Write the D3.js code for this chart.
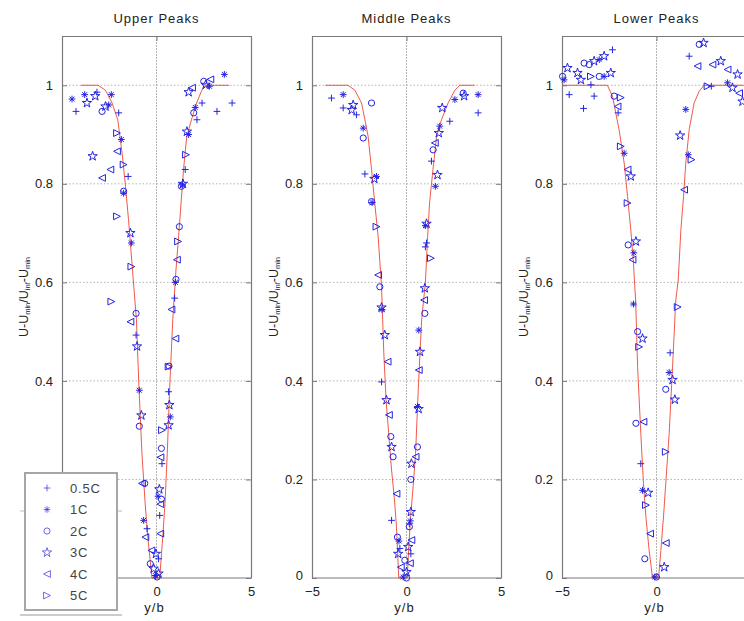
<!DOCTYPE html>
<html><head><meta charset="utf-8">
<script src="https://cdn.jsdelivr.net/npm/d3@7"></script>
<style>
html,body{margin:0;padding:0;background:#fff;}
svg text{font-family:"Liberation Sans",Arial,sans-serif;}
</style></head>
<body><svg id="c" width="744" height="621"></svg>
<script>
// ---------- DATA ----------
const panelTitles = ["Upper Peaks", "Middle Peaks", "Lower Peaks"];
const seriesNames = ["0.5C", "1C", "2C", "3C", "4C", "5C"];
const xTicks = [-5, 0, 5];
const yTicks = [0, 0.2, 0.4, 0.6, 0.8, 1];

// Upper peaks, each point [y/b, ratio]
const upper05C = [[-4.26,0.947],[-3.15,0.986],[-2.0,0.944],[-1.5,0.815],[-1.08,0.493],[-0.5,0.1],[0.11,0.039],[0.17,0.127],[0.29,0.232],[0.64,0.378],[0.96,0.568],[1.52,0.829],[2.14,0.93],[2.41,0.964],[3.2,0.947],[4.0,0.964]];
const upper1C = [[-4.47,0.972],[-3.8,0.981],[-2.39,0.981],[-2.53,0.96],[-1.86,0.89],[-1.74,0.781],[-1.33,0.68],[-0.91,0.381],[-0.68,0.117],[-0.06,0.005],[0.08,0.166],[0.73,0.327],[1.0,0.6],[1.38,0.798],[1.7,0.9],[2.05,0.955],[2.8,0.998],[3.59,1.022]];
const upper2C = [[-2.88,0.947],[-1.74,0.785],[-1.08,0.537],[-0.91,0.308],[-0.62,0.192],[-0.33,0.029],[0.03,0.002],[0.26,0.263],[0.26,0.16],[0.66,0.43],[1.03,0.606],[1.21,0.713],[1.32,0.795],[1.97,0.944],[2.5,1.008]];
const upper3C = [[-3.68,0.964],[-3.24,0.978],[-2.7,0.957],[-3.38,0.856],[-1.38,0.7],[-1.03,0.47],[-0.8,0.33],[-0.03,0.049],[-0.15,0.019],[0.11,0.009],[0.15,0.18],[0.68,0.351],[0.64,0.31],[1.4,0.8],[1.61,0.906],[1.7,0.986],[2.6,1.001]];
const upper4C = [[-2.09,0.866],[-2.44,0.829],[-2.88,0.812],[-1.38,0.52],[-0.77,0.192],[-0.59,0.083],[-0.27,0.056],[0.2,0.09],[0.2,0.15],[0.21,0.245],[1.0,0.486],[0.79,0.545],[1.08,0.646],[1.88,0.995],[2.85,1.012]];
const upper5C = [[-2.09,0.903],[-1.74,0.839],[-2.09,0.734],[-1.33,0.632],[-2.39,0.561],[0.29,0.3],[0.64,0.429],[1.14,0.683],[1.56,0.859]];

const middle05C = [[-3.97,0.974],[-3.35,0.954],[-2.65,0.94],[-2.2,0.82],[-1.32,0.398],[-0.79,0.117],[-0.35,0.06],[0.23,0.049],[0.15,0.11],[1.06,0.68],[1.0,0.672],[1.32,0.846],[2.29,0.927],[3.79,0.944]];
const middle1C = [[-3.35,0.981],[-2.29,0.913],[-1.59,0.815],[-1.82,0.762],[-1.3,0.545],[-0.4,0.075],[-0.18,0.002],[0.2,0.116],[0.58,0.348],[0.65,0.503],[1.0,0.715],[1.53,0.795],[1.76,0.917],[2.56,0.971],[3.79,0.981]];
const middle2C = [[-1.85,0.964],[-2.29,0.893],[-1.85,0.764],[-1.41,0.591],[-0.83,0.287],[-0.71,0.246],[-0.48,0.083],[-0.09,0.036],[0,0],[0.15,0.104],[0.23,0.2],[0.58,0.266],[0.97,0.537],[1.41,0.869],[3.0,0.984]];
const middle3C = [[-2.82,0.96],[-2.9,0.95],[-1.7,0.81],[-1.32,0.549],[-1.15,0.493],[-1.06,0.361],[-0.79,0.266],[-0.44,0.049],[0,0.012],[0.09,0.063],[0.23,0.134],[0.26,0.232],[0.64,0.343],[0.71,0.459],[0.97,0.588],[1.06,0.719],[1.64,0.818],[1.71,0.903],[1.89,0.954],[3.05,0.978]];
const middle4C = [[-1.5,0.615],[-1.0,0.439],[-0.93,0.331],[-0.53,0.171],[-0.3,0.022],[0.26,0.077],[0.18,0.03],[0.48,0.246],[0.65,0.422],[0.93,0.564],[1.5,0.883]];
const middle5C = [[-1.59,0.713],[1.29,0.649]];

const lower05C = [[-4.62,0.981],[-3.47,1.001],[-3.3,0.978],[-3.86,0.953],[-2.33,1.072],[-2.03,0.944],[-0.83,0.232],[0.72,0.457],[1.73,1.059],[2.9,0.998]];
const lower1C = [[-4.89,1.011],[-3.03,1.052],[-2.77,1.018],[-1.71,0.862],[-1.22,0.556],[-1.2,0.66],[-0.74,0.178],[-0.09,0.002],[0.67,0.417],[1.55,0.951],[1.68,0.859],[3.76,1.005]];
const lower2C = [[-4.97,1.018],[-3.83,1.045],[-3.56,1.042],[-3.03,1.018],[-2.24,0.978],[-1.5,0.676],[-1.0,0.5],[-1.09,0.314],[-0.62,0.039],[0.0,0.002],[0.49,0.383],[2.26,1.083]];
const lower3C = [[-4.71,1.035],[-4.18,1.025],[-4.0,1.011],[-3.3,1.049],[-2.77,1.059],[-2.42,1.025],[-1.36,0.815],[-1.09,0.683],[-0.74,0.486],[-0.44,0.173],[0.41,0.022],[0.85,0.402],[0.97,0.362],[1.25,0.898],[2.49,1.086],[3.4,1.049],[4.02,0.995],[4.29,1.022],[4.55,0.967]];
const lower4C = [[-2.06,0.957],[-1.53,0.829],[-1.27,0.646],[-0.69,0.317],[-0.34,0.09],[0.49,0.071],[1.46,0.788],[2.17,1.039],[2.96,1.042],[3.76,1.032],[4.37,0.984]];
const lower5C = [[-3.47,1.018],[-1.89,0.975],[-1.89,0.876],[-1.53,0.761],[-0.92,0.469],[-0.56,0.148],[0.49,0.256],[1.12,0.55],[1.85,0.849],[2.7,0.998]];

// Fitted profile curves
const upperCurveX = [-4.0,-3.1,-2.7,-2.35,-2.05,-1.82,-1.64,-1.48,-1.34,-1.2,-1.06,-0.93,-0.77,-0.6,-0.46,-0.24,0.17,0.33,0.45,0.57,0.7,0.86,1.03,1.17,1.3,1.43,1.6,1.85,2.12,2.4,2.6,3.85];
const upperCurveY = [1,1,0.99,0.964,0.93,0.862,0.795,0.727,0.659,0.591,0.524,0.388,0.253,0.151,0.083,0,0,0.083,0.151,0.253,0.388,0.524,0.625,0.693,0.761,0.829,0.896,0.93,0.964,0.99,1,1];
const middleCurveX = [-4.3,-3.1,-2.73,-2.38,-2.2,-2.03,-1.85,-1.68,-1.5,-1.32,-1.2,-1.08,-0.93,-0.79,-0.65,-0.53,-0.41,0.04,0.12,0.23,0.35,0.48,0.62,0.8,1.0,1.12,1.22,1.4,1.59,1.85,2.2,2.56,2.82,3.6];
const middleCurveY = [1,1,0.99,0.964,0.93,0.896,0.829,0.761,0.693,0.591,0.456,0.361,0.287,0.219,0.165,0.104,0,0,0.063,0.131,0.185,0.253,0.38,0.524,0.6,0.693,0.761,0.829,0.896,0.93,0.964,0.99,1,1];
const lowerCurveX = [-5,-2.6,-2.33,-1.98,-1.71,-1.53,-1.36,-1.22,-1.1,-1.0,-0.83,-0.69,-0.56,-0.39,-0.21,0.11,0.23,0.37,0.49,0.67,0.85,1.02,1.15,1.29,1.43,1.55,1.73,1.99,2.26,2.52,5];
const lowerCurveY = [1,1,0.978,0.91,0.842,0.774,0.707,0.639,0.56,0.429,0.293,0.192,0.124,0.056,0,0,0.056,0.124,0.192,0.293,0.429,0.564,0.605,0.707,0.774,0.842,0.91,0.964,0.988,1,1];

// ---------- BUILD ----------
const panels = [
  {title: panelTitles[0], series: [upper05C, upper1C, upper2C, upper3C, upper4C, upper5C], cx: upperCurveX, cy: upperCurveY},
  {title: panelTitles[1], series: [middle05C, middle1C, middle2C, middle3C, middle4C, middle5C], cx: middleCurveX, cy: middleCurveY},
  {title: panelTitles[2], series: [lower05C, lower1C, lower2C, lower3C, lower4C, lower5C], cx: lowerCurveX, cy: lowerCurveY}
];

const svg = d3.select("#c");
svg.append("rect").attr("width", 744).attr("height", 621).attr("fill", "#fff");

const W = 189, H = 542, TOP = 36, LEFTS = [62, 312, 562], PAGE_W = 744;
const markerColor = "#2424e0";
const axisColor = "#7a7a7a";
const gridColor = "#b4b4b4";
const textColor = "#222";

const r = 3.4;
const shapes = [
  () => `M${-r},0H${r}M0,${-r}V${r}`,
  () => { const d = r*0.72; return `M${-r},0H${r}M0,${-r}V${r}M${-d},${-d}L${d},${d}M${-d},${d}L${d},${-d}`; },
  () => d3.symbol(d3.symbolCircle, 30)(),
  () => d3.symbol(d3.symbolStar, 27)(),
  () => `M${-r},0L${r},${-r}L${r},${r}Z`,
  () => `M${r},0L${-r},${-r}L${-r},${r}Z`
];

panels.forEach((p, i) => {
  const L = LEFTS[i];
  const g = svg.append("g").attr("transform", `translate(${L},${TOP})`);
  const x = d3.scaleLinear().domain([-5, 5]).range([0, W]);
  const y = d3.scaleLinear().domain([0, 1.1]).range([H, 0]);

  // grid
  g.append("g").selectAll("line").data(yTicks.filter(t => t > 0)).join("line")
    .attr("x1", 0).attr("x2", W).attr("y1", d => y(d)).attr("y2", d => y(d))
    .attr("stroke", gridColor).attr("stroke-width", 1).attr("stroke-dasharray", "1.5,2");
  g.append("g").selectAll("line").data(xTicks.filter(t => t > -5 && t < 5)).join("line")
    .attr("y1", 0).attr("y2", H).attr("x1", d => x(d)).attr("x2", d => x(d))
    .attr("stroke", gridColor).attr("stroke-width", 1).attr("stroke-dasharray", "2,1");

  // x tick labels only where they fall inside the page
  const visibleX = xTicks.filter(t => L + x(t) + 6 < PAGE_W);

  const fmt = d3.format("~g");
  const ax = [
    g.append("g").call(d3.axisLeft(y).tickValues(yTicks).tickFormat(fmt).tickSizeInner(-5).tickSizeOuter(0).tickPadding(9)),
    g.append("g").attr("transform", `translate(${W},0)`).call(d3.axisRight(y).tickValues(yTicks).tickFormat("").tickSizeInner(-5).tickSizeOuter(0)),
    g.append("g").attr("transform", `translate(0,${H})`).call(d3.axisBottom(x).tickValues(visibleX).tickFormat(fmt).tickSizeInner(-5).tickSizeOuter(0).tickPadding(9)),
    g.append("g").call(d3.axisTop(x).tickValues(xTicks).tickFormat("").tickSizeInner(-5).tickSizeOuter(0))
  ];
  // keep full bottom domain line
  ax[2].select(".domain").attr("d", `M0,0H${W}`);
  ax.forEach(a => {
    a.select(".domain").attr("stroke", axisColor).attr("stroke-width", 1.2);
    a.selectAll(".tick line").attr("stroke", axisColor);
    a.selectAll(".tick text").attr("fill", textColor).attr("font-size", 13)
      .attr("font-family", "'Liberation Sans',Arial,sans-serif");
  });
  ax[0].selectAll(".tick text").filter(d => d === 0).attr("dy", "0.1em");

  // fitted curve
  const curvePts = p.cx.map((v, k) => [v, p.cy[k]]);
  g.append("path").datum(curvePts)
    .attr("d", d3.line().x(d => x(d[0])).y(d => y(d[1])))
    .attr("fill", "none").attr("stroke", "#ec3c2c").attr("stroke-width", 1).attr("opacity", 0.85);

  // markers
  p.series.forEach((s, si) => {
    g.append("g").selectAll("path").data(s).join("path")
      .attr("transform", d => `translate(${x(d[0])},${y(d[1])})`)
      .attr("d", shapes[si]())
      .attr("fill", "none").attr("stroke", markerColor).attr("stroke-width", 1);
  });

  // title
  g.append("text").attr("x", W / 2).attr("y", -13).attr("text-anchor", "middle")
    .attr("font-size", 13).attr("letter-spacing", 1).attr("fill", textColor).text(p.title);
  // xlabel
  g.append("text").attr("x", W / 2 - 2).attr("y", H + 34).attr("text-anchor", "middle")
    .attr("font-size", 13).attr("letter-spacing", 1).attr("fill", textColor).text("y/b");
  // ylabel
  const yl = g.append("text").attr("transform", `translate(-34,${H / 2 - 10}) rotate(-90)`)
    .attr("text-anchor", "middle").attr("font-size", 12.5).attr("fill", textColor);
  const parts = [["U-U", false], ["min", true], ["/U", false], ["inf", true], ["-U", false], ["min", true]];
  parts.forEach(([t, sub]) => {
    const ts = yl.append("tspan").text(t);
    if (sub) ts.attr("font-size", 7.5).attr("baseline-shift", "-25%");
  });
});

// legend
const lg = svg.append("g");
lg.append("line").attr("x1", 20).attr("x2", 122).attr("y1", 615).attr("y2", 615).attr("stroke", "#9a9a9a").attr("stroke-width", 1.2);
lg.append("line").attr("x1", 20).attr("x2", 122).attr("y1", 511).attr("y2", 511).attr("stroke", "#bdbdbd").attr("stroke-width", 1);
lg.append("rect").attr("x", 25).attr("y", 473).attr("width", 92).attr("height", 137)
  .attr("fill", "#fff").attr("stroke", "#a6a6a6").attr("stroke-width", 2);
seriesNames.forEach((nm, i) => {
  const yy = 488 + i * 21.5;
  lg.append("path").attr("transform", `translate(47,${yy})`).attr("d", shapes[i]())
    .attr("fill", "none").attr("stroke", markerColor).attr("stroke-width", 0.9).attr("opacity", 0.75);
  lg.append("text").attr("x", 70).attr("y", yy).attr("dy", "0.35em").attr("font-size", 13)
    .attr("letter-spacing", 0.8).attr("fill", "#444").text(nm);
});
</script></body></html>
